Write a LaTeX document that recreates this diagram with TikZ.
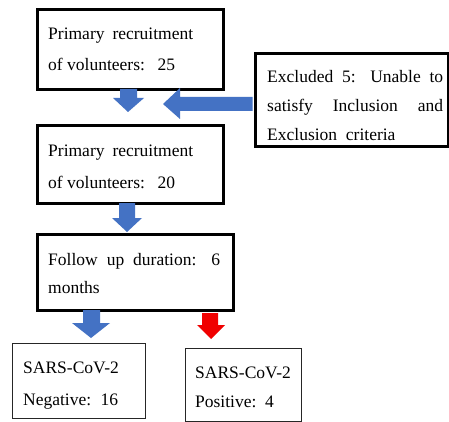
\documentclass[tikz,border=0pt]{standalone}
\usepackage{fontspec}
\setmainfont{Liberation Serif}
\definecolor{ablue}{HTML}{4472C4}
\definecolor{ared}{HTML}{F00000}
\begin{document}
\begin{tikzpicture}[x=1pt,y=-1pt,
  thickbox/.style={draw=black,line width=2.6pt,fill=white,inner sep=0pt,anchor=north west},
  thinbox/.style={draw=black!85,line width=1.3pt,fill=white,inner sep=0pt,anchor=north west},
  txt/.style={anchor=base west,inner sep=0pt,font=\fontsize{17.5}{21}\selectfont}]
\useasboundingbox (0,0) rectangle (449,422);
\fill[white] (0,0) rectangle (449,422);
% boxes
\node[thickbox,minimum width=186pt,minimum height=80pt] (b1) at (36,8) {};
\node[thickbox,minimum width=186pt,minimum height=78pt] (b2) at (36,124) {};
\node[thickbox,minimum width=193pt,minimum height=93pt] (b3) at (254,52) {};
\node[thickbox,minimum width=196pt,minimum height=76pt] (b4) at (36,233) {};
\node[thinbox,minimum width=133pt,minimum height=75pt] (b5) at (12,343) {};
\node[thinbox,minimum width=116pt,minimum height=73pt] (b6) at (185,348) {};
% texts
\node[txt] (t1a) at (48,40) {\makebox[145pt][s]{Primary recruitment}};
\node[txt] (t1b) at (48,71) {\makebox[127pt]{of volunteers:\hfill 25}};
\node[txt] (t2a) at (48,157) {\makebox[145pt][s]{Primary recruitment}};
\node[txt] (t2b) at (48,188) {\makebox[127pt]{of volunteers:\hfill 20}};
\node[txt] (t3a) at (267,83) {\makebox[176pt][s]{Excluded 5: Unable to}};
\node[txt] (t3b) at (267,112) {\makebox[176pt][s]{satisfy Inclusion and}};
\node[txt] (t3c) at (267,141) {Exclusion\ \ criteria};
\node[txt] (t4a) at (48,265) {\makebox[172pt][s]{Follow up duration: 6}};
\node[txt] (t4b) at (48,293) {months};
\node[txt] (t5a) at (23,373) {SARS-CoV-2};
\node[txt] (t5b) at (23,405) {\makebox[95pt]{Negative:\hfill 16}};
\node[txt] (t6a) at (195,378) {SARS-CoV-2};
\node[txt] (t6b) at (195,407) {Positive:\ \ 4};
% block arrows
\fill[ablue] (120,89) -- (137,89) -- (137,98) -- (144,98) -- (128,112) -- (113,98) -- (120,98) -- cycle;
\fill[ablue] (252.7,97) -- (180,97) -- (180,88) -- (163,104) -- (180,119) -- (180,111) -- (252.7,111) -- cycle;
\fill[ablue] (119,203) -- (135,203) -- (135,218) -- (142,218) -- (127,232) -- (112,218) -- (119,218) -- cycle;
\fill[ablue] (83,310) -- (100,310) -- (100,323) -- (110,323) -- (91,338) -- (72,323) -- (83,323) -- cycle;
\fill[ared] (202,313) -- (218,313) -- (218,325) -- (225,325) -- (211,339) -- (197,325) -- (202,325) -- cycle;
\end{tikzpicture}
\end{document}
